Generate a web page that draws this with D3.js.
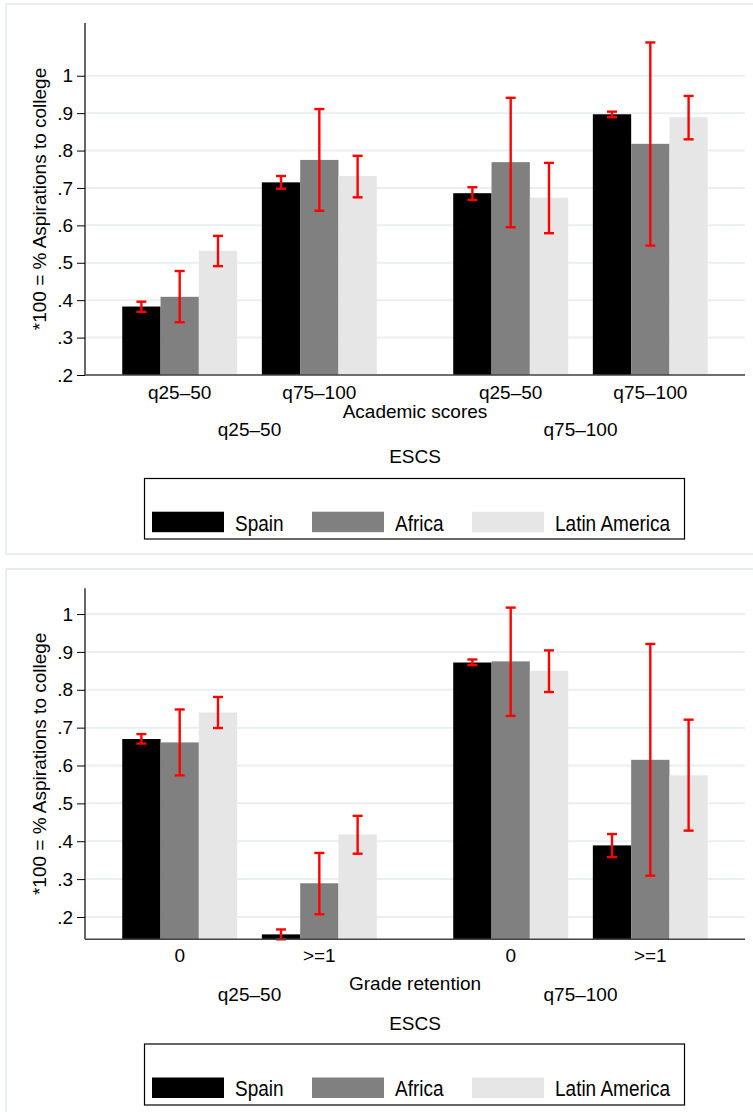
<!DOCTYPE html>
<html>
<head>
<meta charset="utf-8">
<script src="https://cdn.jsdelivr.net/npm/d3@7"></script>
<style>
  html, body { margin: 0; padding: 0; background: #ffffff; }
  svg { display: block; font-family: "Liberation Sans", Arial, sans-serif; }
</style>
</head>
<body>
<svg id="chart" width="753" height="1112"></svg>
<script>
// ---------- data ----------
const seriesNames = ["Spain", "Africa", "Latin America"];
const seriesColors = ["#000000", "#808080", "#e6e6e6"];
const escsLabels = ["q25\u201350", "q75\u2013100"];
const yTicks = [0.2, 0.3, 0.4, 0.5, 0.6, 0.7, 0.8, 0.9, 1.0];

// Panel 1: Academic scores
const academicLabels = ["q25\u201350", "q75\u2013100"];
const spain1   = [0.383, 0.715, 0.686, 0.897];
const spain1Lo = [0.369, 0.698, 0.668, 0.889];
const spain1Hi = [0.396, 0.732, 0.702, 0.904];
const africa1   = [0.409, 0.775, 0.769, 0.818];
const africa1Lo = [0.341, 0.639, 0.595, 0.546];
const africa1Hi = [0.478, 0.911, 0.941, 1.089];
const latam1   = [0.532, 0.732, 0.674, 0.889];
const latam1Lo = [0.491, 0.675, 0.579, 0.830];
const latam1Hi = [0.572, 0.786, 0.767, 0.946];

// Panel 2: Grade retention
const retentionLabels = ["0", ">=1"];
const spain2   = [0.670, 0.154, 0.872, 0.389];
const spain2Lo = [0.658, 0.141, 0.865, 0.358];
const spain2Hi = [0.683, 0.167, 0.880, 0.419];
const africa2   = [0.661, 0.289, 0.875, 0.615];
const africa2Lo = [0.574, 0.207, 0.731, 0.309];
const africa2Hi = [0.748, 0.369, 1.017, 0.921];
const latam2   = [0.740, 0.418, 0.850, 0.574];
const latam2Lo = [0.699, 0.367, 0.794, 0.428];
const latam2Hi = [0.781, 0.467, 0.904, 0.721];

const yTitle = "*100 = % Aspirations to college";

// ---------- drawing ----------
const svg = d3.select("#chart");
const FONT = 19;
const fmt = v => (v >= 1 ? d3.format("d")(v) : d3.format(".1f")(v).replace(/^0/, ""));

function panel(cfg) {
  const g = svg.append("g");
  // panel frame
  g.append("rect")
    .attr("x", cfg.frame[0]).attr("y", cfg.frame[1])
    .attr("width", cfg.frame[2]).attr("height", cfg.frame[3])
    .attr("fill", "#ffffff").attr("stroke", "#e6eef1").attr("stroke-width", 2);

  const left = 85, right = 745;
  const y = d3.scaleLinear().domain(cfg.yDomain).range([cfg.bottom, cfg.top]);

  const outer = d3.scaleBand().domain(escsLabels).range([left, right])
    .paddingInner(0.231).paddingOuter(0.1125);
  const inner = d3.scaleBand().domain(cfg.subLabels).range([0, outer.bandwidth()])
    .paddingInner(0.177).paddingOuter(0);
  const ser = d3.scaleBand().domain(seriesNames).range([0, inner.bandwidth()]).padding(0);

  // gridlines
  g.append("g").selectAll("line").data(yTicks).join("line")
    .attr("x1", left + 1).attr("x2", right)
    .attr("y1", d => y(d)).attr("y2", d => y(d))
    .attr("stroke", "#e8f0f2").attr("stroke-width", 2);

  // build records
  const recs = [];
  escsLabels.forEach((e, ei) => {
    cfg.subLabels.forEach((s, si) => {
      const idx = ei * 2 + si;
      seriesNames.forEach((n, k) => {
        recs.push({
          e, s, n, k,
          v: cfg.vals[k][idx], lo: cfg.lo[k][idx], hi: cfg.hi[k][idx]
        });
      });
    });
  });
  const bx = d => outer(d.e) + inner(d.s) + ser(d.n);

  g.append("g").selectAll("rect").data(recs).join("rect")
    .attr("x", d => bx(d))
    .attr("width", ser.bandwidth())
    .attr("y", d => y(d.v))
    .attr("height", d => y(cfg.yDomain[0]) - y(d.v))
    .attr("fill", d => seriesColors[d.k]);

  // error bars
  const eb = g.append("g").attr("stroke", "#ff0000").attr("stroke-width", 2.4).attr("fill", "none");
  recs.forEach(d => {
    const cx = bx(d) + ser.bandwidth() / 2;
    eb.append("line").attr("x1", cx).attr("x2", cx).attr("y1", y(d.lo)).attr("y2", y(d.hi));
    eb.append("line").attr("x1", cx - 5).attr("x2", cx + 5).attr("y1", y(d.lo)).attr("y2", y(d.lo));
    eb.append("line").attr("x1", cx - 5).attr("x2", cx + 5).attr("y1", y(d.hi)).attr("y2", y(d.hi));
  });

  // y axis
  const yAxis = d3.axisLeft(y).tickValues(yTicks).tickFormat(fmt).tickSize(8).tickPadding(4);
  const ya = g.append("g").attr("transform", `translate(${left},0)`).call(yAxis);
  ya.select(".domain").remove();
  ya.selectAll(".tick line").attr("stroke", "#000").attr("stroke-width", 1);
  ya.selectAll(".tick text").attr("font-size", FONT).attr("fill", "#000")
    .attr("font-family", "Liberation Sans, Arial, sans-serif");
  g.append("line").attr("x1", left).attr("x2", left)
    .attr("y1", cfg.axisTop).attr("y2", cfg.bottom).attr("stroke", "#000").attr("stroke-width", 1.2);

  // x axis baseline
  g.append("line").attr("x1", left).attr("x2", right)
    .attr("y1", cfg.bottom).attr("y2", cfg.bottom).attr("stroke", "#444").attr("stroke-width", 1.5);

  // inner category labels
  escsLabels.forEach(e => {
    cfg.subLabels.forEach(s => {
      g.append("text")
        .attr("x", outer(e) + inner(s) + inner.bandwidth() / 2)
        .attr("y", cfg.innerY).attr("text-anchor", "middle")
        .attr("font-size", FONT).attr("fill", "#000").text(s);
    });
    g.append("text")
      .attr("x", outer(e) + outer.bandwidth() / 2)
      .attr("y", cfg.outerY).attr("text-anchor", "middle")
      .attr("font-size", FONT).attr("fill", "#000").text(e);
  });
  g.append("text").attr("x", (left + right) / 2).attr("y", cfg.subTitleY)
    .attr("text-anchor", "middle").attr("font-size", FONT).attr("fill", "#000").text(cfg.subTitle);
  g.append("text").attr("x", (left + right) / 2).attr("y", cfg.escsY)
    .attr("text-anchor", "middle").attr("font-size", FONT).attr("fill", "#000").text("ESCS");

  // y title
  g.append("text")
    .attr("transform", `translate(46,${(cfg.axisTop + cfg.bottom) / 2}) rotate(-90)`)
    .attr("text-anchor", "middle").attr("font-size", FONT).attr("fill", "#000").text(yTitle);

  // legend
  const L = cfg.legend;
  g.append("rect").attr("x", 144.5).attr("y", L.top).attr("width", 540).attr("height", L.h)
    .attr("fill", "#fff").attr("stroke", "#000").attr("stroke-width", 1.2);
  const lx = [152, 312, 472];
  seriesNames.forEach((n, k) => {
    g.append("rect").attr("x", lx[k]).attr("y", L.sw).attr("width", 72).attr("height", 20.5)
      .attr("fill", seriesColors[k]);
    g.append("text")
      .attr("transform", `translate(${lx[k] + 83},${L.text}) scale(1,1.15)`)
      .attr("font-size", FONT).attr("fill", "#000").text(n);
  });
}

panel({
  frame: [6, 4, 760, 550],
  yDomain: [0.2, 1.141], top: 23, bottom: 375, axisTop: 23,
  subLabels: academicLabels,
  vals: [spain1, africa1, latam1], lo: [spain1Lo, africa1Lo, latam1Lo], hi: [spain1Hi, africa1Hi, latam1Hi],
  innerY: 398.5, subTitle: "Academic scores", subTitleY: 417.5, outerY: 436, escsY: 463,
  legend: { top: 478.5, h: 60.5, sw: 511.7, text: 531 }
});

panel({
  frame: [6, 569, 760, 560],
  yDomain: [0.141, 1.068], top: 588.3, bottom: 939.3, axisTop: 588.3,
  subLabels: retentionLabels,
  vals: [spain2, africa2, latam2], lo: [spain2Lo, africa2Lo, latam2Lo], hi: [spain2Hi, africa2Hi, latam2Hi],
  innerY: 962, subTitle: "Grade retention", subTitleY: 989.5, outerY: 1001, escsY: 1029.5,
  legend: { top: 1044, h: 61, sw: 1077.5, text: 1096 }
});
</script>
</body>
</html>
